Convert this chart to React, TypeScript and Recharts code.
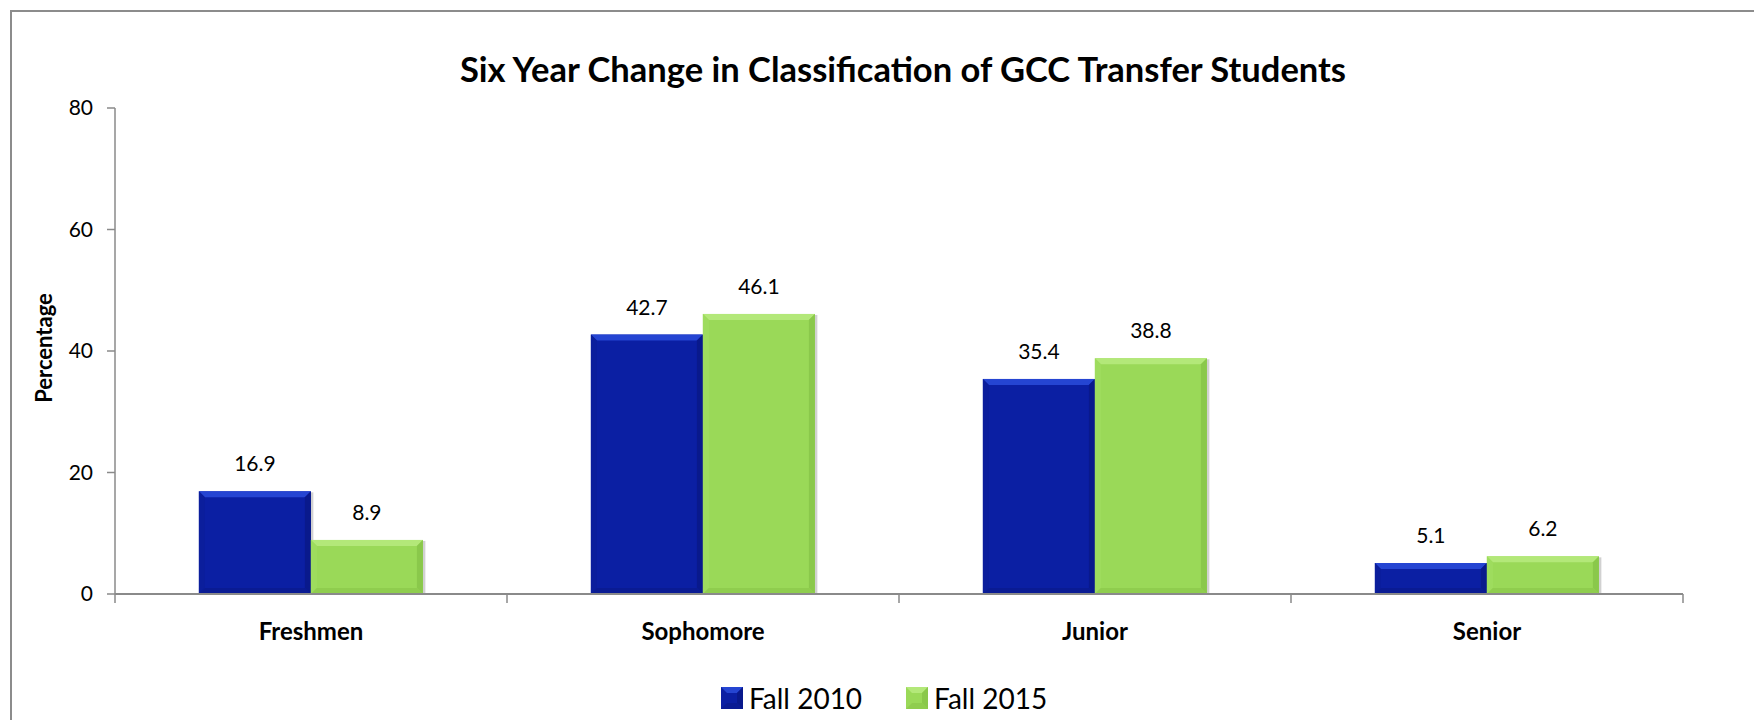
import React from 'react';
import { BarChart, Bar, XAxis, YAxis, LabelList } from 'recharts';

const categories = ['Freshmen', 'Sophomore', 'Junior', 'Senior'];
const fall2010 = [16.9, 42.7, 35.4, 5.1];
const fall2015 = [8.9, 46.1, 38.8, 6.2];
const yTicks = [0, 20, 40, 60, 80];
const seriesNames = ['Fall 2010', 'Fall 2015'];
const title = 'Six Year Change in Classification of GCC Transfer Students';
const yLabel = 'Percentage';

const data = categories.map((c, i) => ({ name: c, f2010: fall2010[i], f2015: fall2015[i] }));

const W = 1754;
const H = 720;
const PLOT_LEFT = 115;
const PLOT_RIGHT = 1683;
const PLOT_TOP = 108;
const PLOT_BOTTOM = 594;
const X_AXIS_H = 60;
const BAND = (PLOT_RIGHT - PLOT_LEFT) / categories.length;
const FONT = 'Lato, "Open Sans", sans-serif';
const AXIS_COLOR = '#8a8a8a';

type Palette = { main: string; top: string; left: string; right: string; bottom: string };
const BLUE: Palette = { main: '#0b1fa3', top: '#2545d2', left: '#0b1e9c', right: '#09198c', bottom: '#0a1b93' };
const GREEN: Palette = { main: '#9ad958', top: '#b3e879', left: '#9edc5e', right: '#8ac84b', bottom: '#8fcd4e' };

const makeBevelBar = (p: Palette) => (props: any) => {
  const { x, y, width, height } = props;
  if (!height || height <= 0) return null;
  const b = Math.min(6, height / 2, width / 2);
  return (
    <g>
      <rect x={x + 1} y={y + 1} width={width + 1.5} height={height} fill="rgba(0,0,0,0.18)" />
      <rect x={x} y={y} width={width} height={height} fill={p.main} />
      <polygon points={`${x},${y} ${x + width},${y} ${x + width - b},${y + b} ${x + b},${y + b}`} fill={p.top} />
      <polygon points={`${x},${y} ${x + b},${y + b} ${x + b},${y + height - b} ${x},${y + height}`} fill={p.left} />
      <polygon points={`${x + width},${y} ${x + width - b},${y + b} ${x + width - b},${y + height - b} ${x + width},${y + height}`} fill={p.right} />
      <polygon points={`${x},${y + height} ${x + b},${y + height - b} ${x + width - b},${y + height - b} ${x + width},${y + height}`} fill={p.bottom} />
    </g>
  );
};

const XTick = (props: any) => {
  const { x, y, payload, index } = props;
  const left = x - BAND / 2;
  const right = x + BAND / 2;
  return (
    <g>
      <line x1={left} y1={y} x2={left} y2={y + 9} stroke={AXIS_COLOR} strokeWidth={1.5} />
      {index === categories.length - 1 && (
        <line x1={right} y1={y} x2={right} y2={y + 9} stroke={AXIS_COLOR} strokeWidth={1.5} />
      )}
      <text x={x} y={y + 38} dy="0.35em" textAnchor="middle" fontFamily={FONT} fontWeight={700} fontSize={24} fill="#000">
        {payload.value}
      </text>
    </g>
  );
};

const LegendIcon = ({ p }: { p: Palette }) => (
  <svg width={22} height={22} style={{ display: 'block' }}>
    <rect x={0} y={0} width={22} height={22} fill={p.main} />
    <polygon points="0,0 22,0 16,6 6,6" fill={p.top} />
    <polygon points="0,22 6,16 16,16 22,22" fill={p.bottom} />
    <polygon points="22,0 16,6 16,16 22,22" fill={p.right} />
  </svg>
);

export default function App() {
  return (
    <div style={{ position: 'absolute', left: 0, top: 0, width: W, height: H, overflow: 'hidden', background: '#fff' }}>
      <div style={{ position: 'absolute', left: 10, top: 10, width: 1900, height: 900, border: '2px solid #8c8c8c', boxSizing: 'border-box' }} />
      <div
        style={{
          position: 'absolute', left: 0, top: 69, width: 1806, textAlign: 'center', transform: 'translateY(-50%)',
          fontFamily: FONT, fontWeight: 700, fontSize: 34.5, color: '#000', whiteSpace: 'nowrap', lineHeight: 1,
        }}
      >
        {title}
      </div>
      <div
        style={{
          position: 'absolute', left: 44, top: 348, transform: 'translate(-50%, -50%) rotate(-90deg)',
          fontFamily: FONT, fontWeight: 700, fontSize: 22, color: '#000', whiteSpace: 'nowrap', lineHeight: 1,
        }}
      >
        {yLabel}
      </div>
      <div style={{ position: 'absolute', left: 0, top: 0 }}>
        <BarChart
          width={W}
          height={H}
          data={data}
          margin={{ top: PLOT_TOP, right: W - PLOT_RIGHT, left: 0, bottom: H - PLOT_BOTTOM - X_AXIS_H }}
          barCategoryGap="21.4%"
          barGap={0}
        >
          <YAxis
            width={PLOT_LEFT}
            domain={[0, 80]}
            ticks={yTicks}
            interval={0}
            tickSize={8}
            tickMargin={14}
            axisLine={{ stroke: AXIS_COLOR, strokeWidth: 1.5 }}
            tickLine={{ stroke: AXIS_COLOR, strokeWidth: 1.5 }}
            tick={{ fontFamily: FONT, fontSize: 21, fill: '#000' }}
          />
          <XAxis
            dataKey="name"
            height={X_AXIS_H}
            tickSize={0}
            tickMargin={0}
            tickLine={false}
            interval={0}
            axisLine={{ stroke: AXIS_COLOR, strokeWidth: 2 }}
            tick={<XTick />}
          />
          <Bar dataKey="f2010" name={seriesNames[0]} fill={BLUE.main} shape={makeBevelBar(BLUE)} isAnimationActive={false}>
            <LabelList dataKey="f2010" position="top" offset={20} fontFamily={FONT} fontSize={21} fill="#000" />
          </Bar>
          <Bar dataKey="f2015" name={seriesNames[1]} fill={GREEN.main} shape={makeBevelBar(GREEN)} isAnimationActive={false}>
            <LabelList dataKey="f2015" position="top" offset={20} fontFamily={FONT} fontSize={21} fill="#000" />
          </Bar>
        </BarChart>
      </div>
      <div style={{ position: 'absolute', left: 721, top: 698, transform: 'translateY(-50%)', display: 'flex', alignItems: 'center', fontFamily: FONT, fontSize: 28, color: '#000', lineHeight: 1 }}>
        <LegendIcon p={BLUE} />
        <span style={{ marginLeft: 6, marginRight: 44 }}>{seriesNames[0]}</span>
        <LegendIcon p={GREEN} />
        <span style={{ marginLeft: 6 }}>{seriesNames[1]}</span>
      </div>
    </div>
  );
}
